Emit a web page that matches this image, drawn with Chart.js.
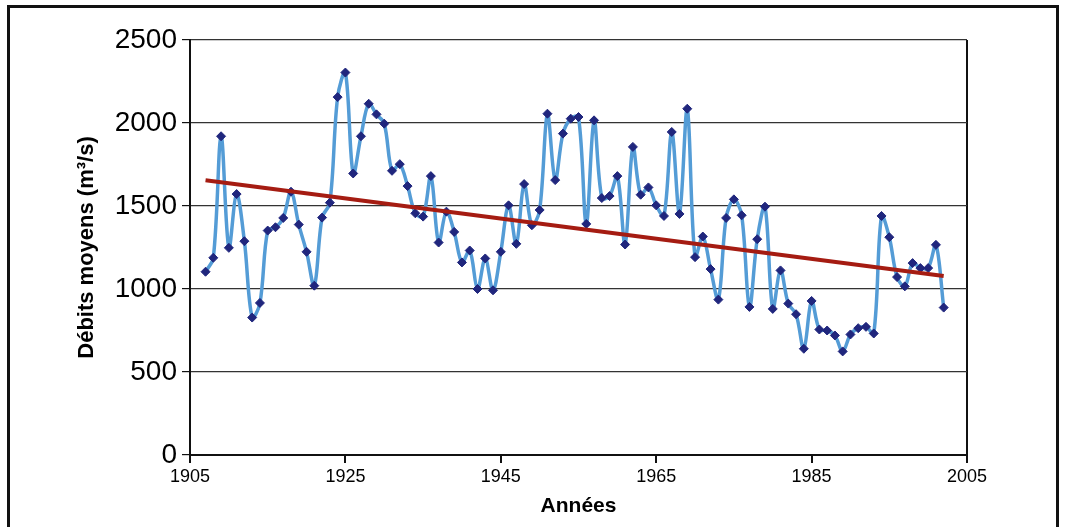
<!DOCTYPE html>
<html>
<head>
<meta charset="utf-8">
<script src="https://cdn.jsdelivr.net/npm/chart.js@4.4.1/dist/chart.umd.min.js"></script>
<style>
  html, body { margin: 0; padding: 0; background: #fff; overflow: hidden; }
  #wrap { position: relative; width: 1065px; height: 527px; }
  #frame { position: absolute; left: 7px; top: 5px; width: 1046px; height: 540px; border: 3px solid #111; pointer-events: none; }
</style>
</head>
<body>
<div id="wrap">
  <canvas id="debitChart" width="1065" height="527"></canvas>
  <div id="frame"></div>
</div>
<script>
// Années (1907 - 2002)
const years = [1907, 1908, 1909, 1910, 1911, 1912, 1913, 1914, 1915, 1916, 1917, 1918, 1919,
  1920, 1921, 1922, 1923, 1924, 1925, 1926, 1927, 1928, 1929,
  1930, 1931, 1932, 1933, 1934, 1935, 1936, 1937, 1938, 1939,
  1940, 1941, 1942, 1943, 1944, 1945, 1946, 1947, 1948, 1949,
  1950, 1951, 1952, 1953, 1954, 1955, 1956, 1957, 1958, 1959,
  1960, 1961, 1962, 1963, 1964, 1965, 1966, 1967, 1968, 1969,
  1970, 1971, 1972, 1973, 1974, 1975, 1976, 1977, 1978, 1979,
  1980, 1981, 1982, 1983, 1984, 1985, 1986, 1987, 1988, 1989,
  1990, 1991, 1992, 1993, 1994, 1995, 1996, 1997, 1998, 1999,
  2000, 2001, 2002];

// Débits moyens annuels (m3/s)
const debits = [1104, 1188, 1920, 1248, 1572, 1288, 828, 916, 1352, 1372, 1428, 1586, 1388,
  1224, 1020, 1430, 1520, 2156, 2304, 1696, 1920, 2116, 2052,
  1996, 1712, 1752, 1620, 1456, 1436, 1680, 1280, 1466, 1344,
  1160, 1232, 1000, 1184, 992, 1224, 1504, 1272, 1632, 1384,
  1476, 2056, 1656, 1936, 2026, 2036, 1392, 2016, 1548, 1560,
  1680, 1268, 1856, 1568, 1612, 1504, 1440, 1946, 1452, 2086,
  1192, 1316, 1120, 936, 1428, 1540, 1444, 892, 1300, 1496,
  880, 1112, 912, 848, 640, 928, 756, 750, 720, 624,
  726, 764, 772, 732, 1440, 1312, 1072, 1016, 1156, 1126,
  1126, 1266, 888];

// Tendance linéaire (extrémités)
const trendYears = [1907, 2002];
const trendValues = [1655, 1078];

const xTicks = [1905, 1925, 1945, 1965, 1985, 2005];

const font = "'Liberation Sans', Arial, Helvetica, sans-serif";

const ctx = document.getElementById('debitChart').getContext('2d');

new Chart(ctx, {
  type: 'line',
  data: {
    datasets: [
      {
        label: 'Tendance',
        data: trendYears.map((y, i) => ({ x: y, y: trendValues[i] })),
        borderColor: 'rgb(165, 28, 18)',
        borderWidth: 4,
        pointRadius: 0,
        fill: false,
        order: 0
      },
      {
        label: 'Débits moyens',
        data: years.map((y, i) => ({ x: y, y: debits[i] })),
        borderColor: 'rgb(84, 156, 214)',
        borderWidth: 3.5,
        tension: 0.35,
        pointStyle: 'rectRot',
        pointRadius: 4.5,
        pointBackgroundColor: 'rgb(32, 38, 125)',
        pointBorderColor: 'rgb(32, 38, 125)',
        pointBorderWidth: 1,
        fill: false,
        order: 1
      }
    ]
  },
  options: {
    responsive: false,
    animation: false,
    devicePixelRatio: 1,
    layout: { padding: { top: 40, right: 98, left: 0, bottom: 0 } },
    plugins: {
      legend: { display: false },
      tooltip: { enabled: false }
    },
    scales: {
      x: {
        type: 'linear',
        min: 1905,
        max: 2005,
        afterFit: s => { s.height = 72; },
        afterBuildTicks: s => { s.ticks = xTicks.map(v => ({ value: v })); },
        ticks: {
          color: '#000',
          font: { family: font, size: 18 },
          padding: 3,
          maxRotation: 0,
          callback: v => String(v)
        },
        grid: {
          color: c => (c.tick && c.tick.value === 2005) ? '#111' : 'rgba(0,0,0,0)',
          lineWidth: 2,
          tickColor: '#111',
          tickLength: 8
        },
        border: { color: '#111', width: 2 },
        title: {
          display: true,
          text: 'Années',
          color: '#000',
          font: { family: font, size: 21, weight: 'bold' },
          padding: { top: 0, bottom: 8 }
        }
      },
      y: {
        min: 0,
        max: 2500,
        afterFit: s => { s.width = 190; },
        ticks: {
          stepSize: 500,
          color: '#000',
          font: { family: font, size: 28 },
          padding: 5,
          callback: v => String(v)
        },
        grid: {
          color: '#333',
          lineWidth: 1.2,
          tickColor: '#111',
          tickLength: 8
        },
        border: { color: '#111', width: 2 },
        title: {
          display: true,
          text: 'Débits moyens (m³/s)',
          color: '#000',
          font: { family: font, size: 22, weight: 'bold' },
          padding: { top: 74, bottom: 0 }
        }
      }
    }
  }
});
</script>
</body>
</html>
